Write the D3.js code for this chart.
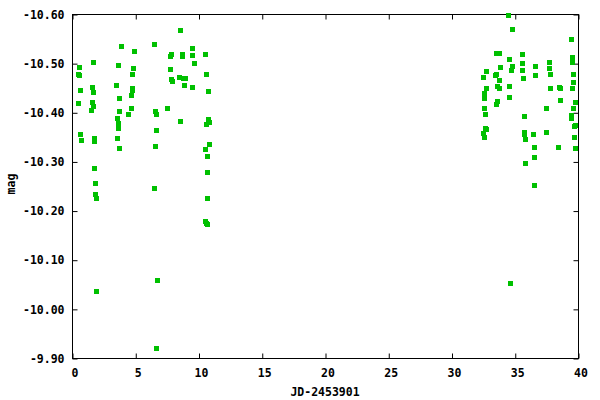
<!DOCTYPE html>
<html>
<head>
<meta charset="utf-8">
<script src="https://cdn.jsdelivr.net/npm/d3@7"></script>
<style>
  html, body { margin: 0; padding: 0; background: #fff; }
  svg text { font-family: "DejaVu Sans Mono", monospace; font-weight: bold; font-size: 11.5px; fill: #000; }
</style>
</head>
<body>
<svg id="chart" width="600" height="400"></svg>
<script>
// Observation time (JD-2453901) and magnitude
const jd = [
  0.553, 0.474, 0.553, 0.632, 0.474, 0.632, 0.711,
  1.660, 1.581, 1.660, 1.581, 1.660, 1.502, 1.739, 1.739, 1.739, 1.818, 1.818, 1.897, 1.897,
  3.874, 3.636, 3.478, 3.715, 3.715, 3.557, 3.636, 3.636, 3.636, 3.557, 3.715,
  4.901, 4.822, 4.743, 4.743, 4.743, 4.664, 4.664, 4.427,
  6.482, 6.561, 6.640, 6.640, 6.561, 6.482, 6.719, 6.640,
  7.510, 8.538, 7.826, 7.747, 7.747, 7.826, 7.905, 8.458, 8.696, 8.696, 8.775, 8.933, 8.854, 8.538,
  9.486, 9.486, 9.644, 9.486,
  10.514, 10.593, 10.751, 10.751, 10.830, 10.593, 10.830, 10.514, 10.672, 10.672, 10.672, 10.514, 10.593, 10.672,
  34.47, 34.78, 39.45, 33.52, 33.75, 35.57, 34.55, 39.53, 39.53, 39.53,
  33.83, 34.78, 34.70, 35.57, 35.57, 36.60, 37.71, 37.71, 32.73, 32.49,
  33.52, 33.44, 33.75, 35.65, 36.60, 37.79, 39.60, 39.60, 32.73, 33.60,
  33.75, 34.55, 37.79, 38.50, 38.58, 39.53, 32.57, 32.57, 33.60, 33.52,
  34.55, 38.58, 39.76, 32.57, 32.65, 37.47, 39.60, 35.73, 39.45, 39.45,
  32.65, 32.73, 32.49, 32.57, 35.73, 35.73, 35.81, 36.44, 37.47, 39.76,
  39.68, 39.68, 36.52, 38.42, 39.76, 36.52, 35.81, 36.52, 34.62
];
const mag = [
  -10.492, -10.478, -10.476, -10.445, -10.419, -10.356, -10.344,
  -10.502, -10.451, -10.441, -10.421, -10.413, -10.405, -10.348, -10.342, -10.287, -10.256, -10.234, -10.226, -10.036,
  -10.535, -10.496, -10.456, -10.429, -10.403, -10.388, -10.378, -10.374, -10.368, -10.348, -10.327,
  -10.525, -10.490, -10.478, -10.449, -10.445, -10.435, -10.409, -10.397,
  -10.539, -10.403, -10.397, -10.364, -10.331, -10.246, -10.059, -9.920,
  -10.409, -10.567, -10.519, -10.515, -10.488, -10.468, -10.464, -10.472, -10.519, -10.515, -10.470, -10.470, -10.456, -10.382,
  -10.531, -10.517, -10.500, -10.451,
  -10.519, -10.478, -10.443, -10.386, -10.380, -10.376, -10.335, -10.325, -10.311, -10.278, -10.226, -10.179, -10.175, -10.173,
  -10.598, -10.569, -10.549, -10.521, -10.521, -10.519, -10.508, -10.512, -10.508, -10.502,
  -10.492, -10.494, -10.486, -10.500, -10.486, -10.494, -10.502, -10.490, -10.484, -10.472,
  -10.478, -10.476, -10.466, -10.470, -10.476, -10.478, -10.478, -10.462, -10.449, -10.454,
  -10.449, -10.454, -10.449, -10.451, -10.449, -10.449, -10.439, -10.429, -10.423, -10.417,
  -10.431, -10.425, -10.421, -10.409, -10.397, -10.409, -10.409, -10.392, -10.395, -10.388,
  -10.368, -10.366, -10.358, -10.350, -10.360, -10.356, -10.346, -10.356, -10.360, -10.374,
  -10.372, -10.350, -10.329, -10.329, -10.327, -10.309, -10.297, -10.252, -10.053
];
const xTicks = [0, 5, 10, 15, 20, 25, 30, 35, 40];
const yTicks = [-10.60, -10.50, -10.40, -10.30, -10.20, -10.10, -10.00, -9.90];
const xLabel = "JD-2453901";
const yLabel = "mag";

const svg = d3.select("#chart");
const L = 72, R = 578, T = 14, B = 358;
const x = d3.scaleLinear().domain([0, 40]).range([L, R]);
const y = d3.scaleLinear().domain([-10.60, -9.90]).range([T, B]);

const fmtY = d3.format(".2f");
const fmtYMinus = v => fmtY(v).replace("\u2212", "-");

function styleAxis(g) {
  g.select(".domain").remove();
  g.selectAll(".tick line").attr("stroke", "#000").attr("stroke-width", 1);
  g.selectAll("text").attr("font-family", null).attr("font-size", null).attr("fill", "#000");
}

// bottom
svg.append("g").attr("transform", `translate(0.5,${B + 0.5})`)
  .call(d3.axisBottom(x).tickValues(xTicks).tickFormat(d3.format("d")).tickSize(-5).tickSizeOuter(0).tickPadding(10))
  .call(styleAxis)
  .selectAll("text").attr("dx", "2");
// top
svg.append("g").attr("transform", `translate(0.5,${T + 0.5})`)
  .call(d3.axisTop(x).tickValues(xTicks).tickFormat("").tickSize(-5).tickSizeOuter(0))
  .call(styleAxis);
// left
svg.append("g").attr("transform", `translate(${L + 0.5},0.5)`)
  .call(d3.axisLeft(y).tickValues(yTicks).tickFormat(fmtYMinus).tickSize(-5).tickSizeOuter(0).tickPadding(8))
  .call(styleAxis);
// right
svg.append("g").attr("transform", `translate(${R + 0.5},0.5)`)
  .call(d3.axisRight(y).tickValues(yTicks).tickFormat("").tickSize(-5).tickSizeOuter(0))
  .call(styleAxis);

// frame
svg.append("rect")
  .attr("x", L + 0.5).attr("y", T + 0.5)
  .attr("width", R - L).attr("height", B - T)
  .attr("fill", "none").attr("stroke", "#000").attr("stroke-width", 1);

// points
const pts = jd.map((d, i) => ({ jd: d, mag: mag[i] }));
svg.append("g").selectAll("rect.pt").data(pts).join("rect")
  .attr("class", "pt")
  .attr("x", d => Math.round(x(d.jd)) - 2)
  .attr("y", d => Math.round(y(d.mag)) - 2)
  .attr("width", 5).attr("height", 5)
  .attr("fill", "#00c000");

// axis labels
svg.append("text").attr("x", (L + R) / 2 + 0).attr("y", 392).attr("dy", "0.35em")
  .attr("text-anchor", "middle").text(xLabel);
svg.append("text").attr("transform", "translate(11,184) rotate(-90)")
  .attr("dy", "0.35em").attr("text-anchor", "middle").text(yLabel);
</script>
</body>
</html>
